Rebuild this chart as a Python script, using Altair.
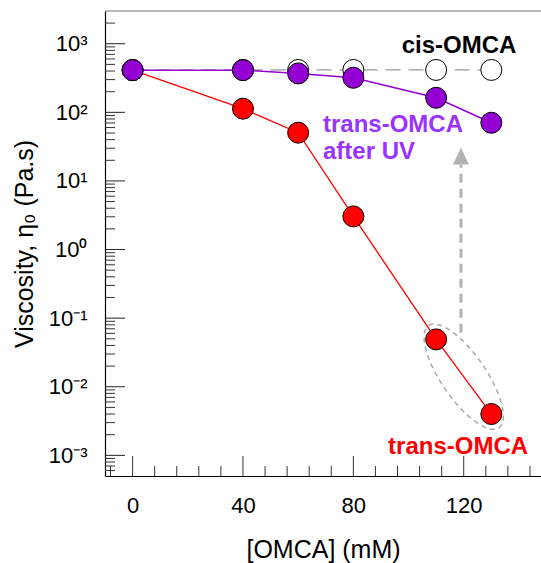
import altair as alt
import pandas as pd

# ---- data ----
conc = [0, 40, 60, 80, 110, 130]
visc_trans = [412, 113, 50.5, 3.04, 0.049, 0.0040]
visc_uv = [412, 412, 369, 319, 163, 70.5]
visc_cis = [415, 415, 415, 415, 415, 415]

x_major = [0, 40, 80, 120]
x_minor = [-8, 8, 16, 24, 32, 48, 56, 64, 72, 88, 96, 104, 112, 128, 136, 144]
y_major = [1e-3, 1e-2, 1e-1, 1e0, 1e1, 1e2, 1e3]
y_labels = ["10⁻³", "10⁻²", "10⁻¹", "10⁰", "10¹", "10²", "10³"]
y_minor = [k * 10.0 ** d for d in range(-4, 4) for k in range(2, 10)
           if 5e-4 < k * 10.0 ** d < 3000]

# annotations (data units)
cis_label = {"x": [97.5], "y": [740], "t": ["cis-OMCA"]}
uv_label = {"x": [69.0], "y": [51], "t": ["trans-OMCA\nafter UV"]}
trans_label = {"x": [92.6], "y": [0.00103], "t": ["trans-OMCA"]}
arrow_x = [119]
arrow_y_from = [0.061]
arrow_y_to = [17.3]
arrow_head_y = [23.0]
ellipse_x = [120]
ellipse_y = [0.014]

W, H = 436, 465
FONT = "Liberation Sans"
XDOM = [-10, 148]
YDOM = [5e-4, 3000]

xs = alt.Scale(domain=XDOM, nice=False, zero=False)
ys = alt.Scale(type="log", domain=YDOM, nice=False)

lbl_expr = "{" + ",".join(f"'{v:g}':'{l}'" for v, l in zip(y_major, y_labels)) + "}"

x_axis = alt.Axis(values=x_major, ticks=False, tickSize=0, grid=False,
                  labelFontSize=22, labelFont=FONT, labelColor="black",
                  labelPadding=19, domainColor="black", domainWidth=1.2,
                  title="[OMCA] (mM)", titleFont=FONT, titleFontSize=25,
                  titleFontWeight="normal", titleColor="black",
                  titleBaseline="middle", titleX=W / 2, titleY=73)
y_axis = alt.Axis(values=y_major, ticks=False, tickSize=0, grid=False,
                  labelExpr=f"({lbl_expr})[format(datum.value, '')]",
                  labelFontSize=22, labelFont=FONT, labelColor="black",
                  labelPadding=18, domainColor="black", domainWidth=1.2,
                  title="Viscosity, η₀ (Pa.s)", titleFont=FONT, titleFontSize=25,
                  titleFontWeight="normal", titleColor="black",
                  titleBaseline="middle", titleX=-81, titleY=H / 2, titleAngle=270)

df = pd.DataFrame({"c": conc, "trans": visc_trans, "uv": visc_uv, "cis": visc_cis})

def X(field="c"):
    return alt.X(f"{field}:Q", scale=xs, axis=x_axis)

def Y(field):
    return alt.Y(f"{field}:Q", scale=ys, axis=y_axis)

base = alt.Chart(df)
PT = 441

cis_line = base.mark_line(color="#808080", strokeWidth=1, strokeDash=[15, 8]).encode(
    x=X(), y=Y("cis"))
cis_pts = base.mark_point(filled=True, fill="white", stroke="black", strokeWidth=1,
                          size=PT, shape="circle", opacity=1).encode(x=X(), y=Y("cis"))
red_line = base.mark_line(color="#ff0000", strokeWidth=1.3).encode(x=X(), y=Y("trans"))
uv_line = base.mark_line(color="#9400d3", strokeWidth=1.5).encode(x=X(), y=Y("uv"))
red_pts = base.mark_point(filled=True, fill="#ff0000", stroke="black", strokeWidth=1,
                          size=PT, shape="circle", opacity=1).encode(x=X(), y=Y("trans"))
uv_pts = base.mark_point(filled=True, fill="#9400d3", stroke="black", strokeWidth=1,
                         size=PT, shape="circle", opacity=1).encode(x=X(), y=Y("uv"))

# ticks pointing inwards
ymaj = alt.Chart(pd.DataFrame({"v": y_major})).mark_rule(color="#222", strokeWidth=1).encode(
    y=Y("v"), x=alt.value(0), x2=alt.value(20))
ymin = alt.Chart(pd.DataFrame({"v": y_minor})).mark_rule(color="#333", strokeWidth=1).encode(
    y=Y("v"), x=alt.value(0), x2=alt.value(10))
xmaj = alt.Chart(pd.DataFrame({"v": x_major})).mark_rule(color="#333", strokeWidth=1).encode(
    x=X("v"), y=alt.value(H), y2=alt.value(H - 20))
xmin = alt.Chart(pd.DataFrame({"v": x_minor})).mark_rule(color="#333", strokeWidth=1).encode(
    x=X("v"), y=alt.value(H), y2=alt.value(H - 10))
top_line = alt.Chart(pd.DataFrame({"v": [0]})).mark_rule(color="#777", strokeWidth=1.2).encode(
    x=alt.value(0), x2=alt.value(W), y=alt.value(0))

# annotations
def label(d, color):
    return alt.Chart(pd.DataFrame(d)).mark_text(
        font=FONT, fontSize=24, fontWeight="bold", color=color, align="left",
        baseline="alphabetic", lineBreak="\n", lineHeight=27).encode(
        x=X("x"), y=Y("y"), text="t:N")

cis_txt = label(cis_label, "black")
uv_txt = label(uv_label, "#9933ff")
trans_txt = label(trans_label, "#ff0000")

arrow_df = pd.DataFrame({"x": arrow_x, "y1": arrow_y_from, "y2": arrow_y_to, "yh": arrow_head_y})
arrow_shaft = alt.Chart(arrow_df).mark_rule(color="#b3b3b3", strokeWidth=3,
                                            strokeDash=[9, 6]).encode(
    x=X("x"), y=Y("y1"), y2="y2:Q")
arrow_head = alt.Chart(arrow_df).mark_point(
    shape="M 0 -1 L -0.94 1 L 0.94 1 Z", filled=True, fill="#b3b3b3", stroke="#b3b3b3",
    strokeWidth=0, size=289, opacity=1).encode(x=X("x"), y=Y("yh"))

ell_path = ("M -1 0 C -1 -0.199 -0.552 -0.36 0 -0.36 C 0.552 -0.36 1 -0.199 1 0 "
            "C 1 0.199 0.552 0.36 0 0.36 C -0.552 0.36 -1 0.199 -1 0 Z")
ellipse = alt.Chart(pd.DataFrame({"x": ellipse_x, "y": ellipse_y})).mark_point(
    shape=ell_path, filled=False, stroke="#aaaaaa", strokeWidth=1.5, strokeDash=[5, 4],
    size=15376, angle=55.5, opacity=1).encode(x=X("x"), y=Y("y"))

chart = alt.layer(
    cis_line, top_line, ymin, ymaj, xmin, xmaj,
    ellipse, arrow_shaft, arrow_head,
    cis_pts, red_line, uv_line, red_pts, uv_pts,
    cis_txt, uv_txt, trans_txt,
).properties(
    width=W, height=H,
    autosize=alt.AutoSizeParams(type="none"),
    padding={"left": 105, "top": 11, "right": 0, "bottom": 87},
).configure_view(stroke=None)

chart.save("out.html", embed_options={"renderer": "svg", "actions": False})
